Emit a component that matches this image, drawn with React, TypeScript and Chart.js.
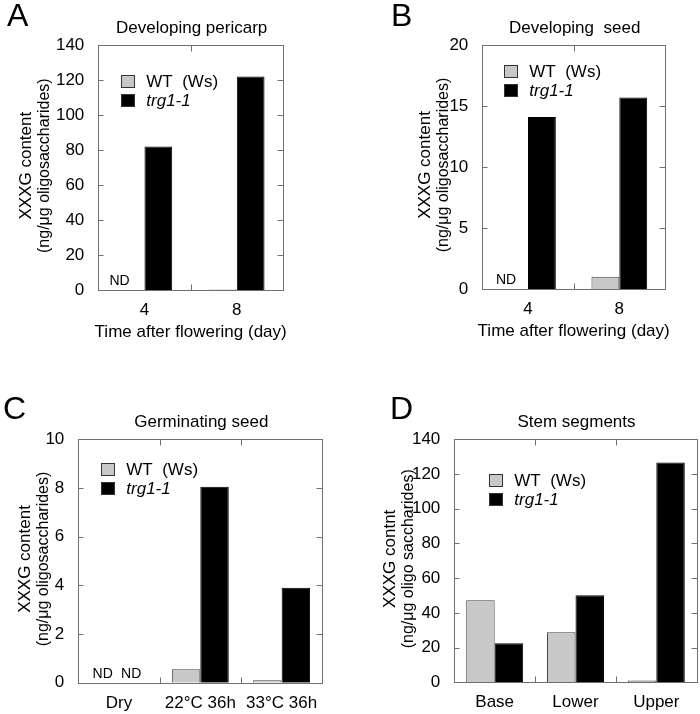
import React, { useEffect, useRef } from "react";
import { Chart, registerables } from "chart.js";

Chart.register(...registerables);

// ---------- data ----------
const seriesNames = ["WT  (Ws)", "trg1-1"];

const pericarpDays = ["4", "8"];
const pericarpWT: (number | null)[] = [null, 0.5];
const pericarpTrg: (number | null)[] = [82, 122];
const pericarpND = [[true, false], [false, false]];
const pericarpYMax = 140;
const pericarpYStep = 20;

const seedDays = ["4", "8"];
const seedWT: (number | null)[] = [null, 1.0];
const seedTrg: (number | null)[] = [14.1, 15.7];
const seedND = [[true, false], [false, false]];
const seedYMax = 20;
const seedYStep = 5;

const germCategories = ["Dry", "22°C 36h", "33°C 36h"];
const germWT: (number | null)[] = [null, 0.55, 0.1];
const germTrg: (number | null)[] = [null, 8.05, 3.9];
const germND = [[true, false, false], [true, false, false]];
const germYMax = 10;
const germYStep = 2;

const stemCategories = ["Base", "Lower", "Upper"];
const stemWT: (number | null)[] = [47.3, 28.8, 1.0];
const stemTrg: (number | null)[] = [22.5, 50.1, 126.7];
const stemND = [[false, false, false], [false, false, false]];
const stemYMax = 140;
const stemYStep = 20;

// ---------- styling ----------
const FONT = "'Liberation Sans', Arial, Helvetica, sans-serif";
const WT_FILL = "#c8c8c8";
const TRG_FILL = "#000000";
const FRAME = "#707070";
const FS = 17;

type Panel = {
  letter: string;
  title: string;
  yTitle: string[];
  xTitle?: string;
  categories: string[];
  wt: (number | null)[];
  trg: (number | null)[];
  nd: boolean[][];
  yMax: number;
  yStep: number;
  left: number;
  top: number;
  width: number;
  height: number;
  padTop: number;
  padRight: number;
  yAxisWidth: number;
  xAxisHeight: number;
  catPct: number;
  letterX: number;
  letterBase: number;
  yTitleOffsets: number[];
  legendX: number;
  legendY: number;
  ndShift: number;
};

const panels: Panel[] = [
  {
    letter: "A",
    title: "Developing pericarp",
    yTitle: ["XXXG content", "(ng/\u03bcg oligosaccharides)"],
    xTitle: "Time after flowering (day)",
    categories: pericarpDays,
    wt: pericarpWT,
    trg: pericarpTrg,
    nd: pericarpND,
    yMax: pericarpYMax,
    yStep: pericarpYStep,
    left: 0, top: 0, width: 350, height: 340,
    padTop: 45, padRight: 67, yAxisWidth: 98.3, xAxisHeight: 49.7,
    catPct: 0.6,
    letterX: 7, letterBase: 26,
    yTitleOffsets: [-72, -54],
    legendX: 23, legendY: 36,
    ndShift: -11,
  },
  {
    letter: "B",
    title: "Developing  seed",
    yTitle: ["XXXG content", "(ng/\u03bcg oligosaccharides)"],
    xTitle: "Time after flowering (day)",
    categories: seedDays,
    wt: seedWT,
    trg: seedTrg,
    nd: seedND,
    yMax: seedYMax,
    yStep: seedYStep,
    left: 350, top: 0, width: 350, height: 340,
    padTop: 45, padRight: 35, yAxisWidth: 132.3, xAxisHeight: 51,
    catPct: 0.61,
    letterX: 41, letterBase: 26,
    yTitleOffsets: [-57, -39],
    legendX: 22, legendY: 26,
    ndShift: -8,
  },
  {
    letter: "C",
    title: "Germinating seed",
    yTitle: ["XXXG content", "(ng/\u03bcg oligosaccharides)"],
    categories: germCategories,
    wt: germWT,
    trg: germTrg,
    nd: germND,
    yMax: germYMax,
    yStep: germYStep,
    left: 0, top: 340, width: 350, height: 374,
    padTop: 99.3, padRight: 27.7, yAxisWidth: 78.3, xAxisHeight: 31.3,
    catPct: 0.7,
    letterX: 3, letterBase: 79,
    yTitleOffsets: [-53, -35],
    legendX: 23, legendY: 30,
    ndShift: -2,
  },
  {
    letter: "D",
    title: "Stem segments",
    yTitle: ["XXXG contnt", "(ng/\u03bcg oligo saccharides)"],
    categories: stemCategories,
    wt: stemWT,
    trg: stemTrg,
    nd: stemND,
    yMax: stemYMax,
    yStep: stemYStep,
    left: 350, top: 340, width: 350, height: 374,
    padTop: 99.3, padRight: 3.3, yAxisWidth: 104.3, xAxisHeight: 31.7,
    catPct: 0.705,
    letterX: 40, letterBase: 79,
    yTitleOffsets: [-64, -46],
    legendX: 35, legendY: 41,
    ndShift: 0,
  },
];

const crisp = (v: number) => Math.round(v) + 0.5;

const decorPlugin = {
  id: "decor",
  afterDatasetsDraw(chart: any, _args: any, opts: any) {
    const p: Panel = opts.panel;
    const { ctx, chartArea: a, scales } = chart;
    const xs = scales.x;
    const ys = scales.y;
    ctx.save();

    const line = (x1: number, y1: number, x2: number, y2: number) => {
      ctx.beginPath();
      ctx.moveTo(x1, y1);
      ctx.lineTo(x2, y2);
      ctx.stroke();
    };

    // frame
    ctx.strokeStyle = FRAME;
    ctx.lineWidth = 1;
    const L = crisp(a.left), R = crisp(a.right), T = crisp(a.top), B = crisp(a.bottom);
    ctx.strokeRect(L, T, R - L, B - T);

    // inward y ticks on both sides
    ys.ticks.forEach((t: any) => {
      const py = crisp(ys.getPixelForValue(t.value));
      line(L, py, L + 5, py);
      line(R - 6, py, R, py);
    });

    // category boundary ticks top & bottom
    const n = chart.data.labels.length;
    for (let i = 0; i < n - 1; i++) {
      const px = crisp((xs.getPixelForValue(i) + xs.getPixelForValue(i + 1)) / 2);
      line(px, T, px, T + 6);
      line(px, B - 6, px, B);
    }

    ctx.fillStyle = "#000";
    // panel letter
    ctx.font = `32px ${FONT}`;
    ctx.textAlign = "left";
    ctx.textBaseline = "alphabetic";
    ctx.fillText(p.letter, p.letterX, p.letterBase);

    // panel title
    ctx.font = `${FS}px ${FONT}`;
    ctx.textAlign = "center";
    ctx.textBaseline = "middle";
    ctx.fillText(p.title, (a.left + a.right) / 2 + 1, a.top - 17);

    // x title
    if (p.xTitle) {
      ctx.fillText(p.xTitle, (a.left + a.right) / 2, a.bottom + 42);
    }

    // y title (two lines, rotated)
    const cy = (a.top + a.bottom) / 2 - 2;
    p.yTitle.forEach((txt, i) => {
      ctx.save();
      ctx.translate(a.left + p.yTitleOffsets[i], cy);
      ctx.rotate(-Math.PI / 2);
      ctx.textAlign = "center";
      ctx.textBaseline = "middle";
      ctx.font = `${i === 0 ? 17 : 16}px ${FONT}`;
      ctx.fillText(txt, 0, 0);
      ctx.restore();
    });

    // legend
    chart.data.datasets.forEach((d: any, i: number) => {
      const bx = a.left + p.legendX;
      const by = a.top + p.legendY + i * 19;
      ctx.fillStyle = d.backgroundColor;
      ctx.fillRect(bx, by - 6, 13, 12);
      ctx.strokeStyle = "#333";
      ctx.strokeRect(crisp(bx), crisp(by - 6), 13, 12);
      ctx.fillStyle = "#000";
      ctx.textAlign = "left";
      ctx.textBaseline = "middle";
      ctx.font = `${i === 1 ? "italic " : ""}${FS}px ${FONT}`;
      ctx.fillText(d.label, bx + 25, by + 1);
    });

    // ND labels
    const catW = (a.right - a.left) / n;
    const barW = (catW * p.catPct) / 2;
    ctx.font = `14px ${FONT}`;
    ctx.textAlign = "center";
    ctx.textBaseline = "alphabetic";
    p.nd.forEach((row, s) => {
      row.forEach((flag, i) => {
        if (!flag) return;
        const cx = xs.getPixelForValue(i) + (s === 0 ? -barW / 2 : barW / 2) + p.ndShift;
        ctx.fillText("ND", cx, a.bottom - 5);
      });
    });

    ctx.restore();
  },
};

function PanelChart({ p }: { p: Panel }) {
  const ref = useRef<HTMLCanvasElement | null>(null);
  useEffect(() => {
    if (!ref.current) return;
    const chart = new Chart(ref.current, {
      type: "bar",
      data: {
        labels: p.categories,
        datasets: [
          {
            label: seriesNames[0],
            data: p.wt,
            backgroundColor: WT_FILL,
            borderColor: "#444",
            borderWidth: 1,
          },
          {
            label: seriesNames[1],
            data: p.trg,
            backgroundColor: TRG_FILL,
            borderColor: "#000",
            borderWidth: 1,
          },
        ],
      },
      options: {
        responsive: false,
        animation: false,
        devicePixelRatio: 1,
        layout: {
          padding: { top: p.padTop, right: p.padRight, left: 0, bottom: 0 },
        },
        datasets: {
          bar: { categoryPercentage: p.catPct, barPercentage: 1 },
        },
        scales: {
          x: {
            grid: { display: false },
            border: { display: false },
            ticks: {
              color: "#000",
              font: { family: FONT, size: FS },
              padding: 2,
              maxRotation: 0,
              autoSkip: false,
            },
            afterFit: (s: any) => {
              s.height = p.xAxisHeight;
            },
          },
          y: {
            min: 0,
            max: p.yMax,
            grid: { display: false },
            border: { display: false },
            ticks: {
              stepSize: p.yStep,
              color: "#000",
              font: { family: FONT, size: FS },
              padding: 6,
            },
            afterFit: (s: any) => {
              s.width = p.yAxisWidth;
            },
          },
        },
        plugins: {
          legend: { display: false },
          tooltip: { enabled: false },
          title: { display: false },
          decor: { panel: p },
        } as any,
      },
      plugins: [decorPlugin],
    });
    return () => chart.destroy();
  }, [p]);
  return (
    <canvas
      ref={ref}
      width={p.width}
      height={p.height}
      style={{
        position: "absolute",
        left: p.left,
        top: p.top,
        width: p.width,
        height: p.height,
      }}
    />
  );
}

export default function App() {
  return (
    <div
      style={{
        position: "absolute",
        left: 0,
        top: 0,
        width: 700,
        height: 714,
        background: "#fff",
        overflow: "hidden",
      }}
    >
      {panels.map((p) => (
        <PanelChart key={p.letter} p={p} />
      ))}
    </div>
  );
}
